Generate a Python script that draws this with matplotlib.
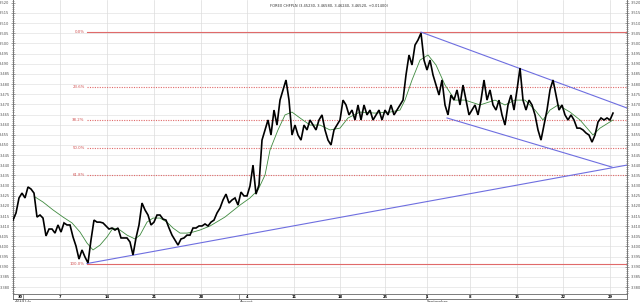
import numpy as np
import matplotlib
matplotlib.use("Agg")
import matplotlib.pyplot as plt
from matplotlib.ticker import MultipleLocator, FormatStrFormatter

# ---------------- data ----------------
title = "FOREX CHFPLN (3.45230, 3.46580, 3.46240, 3.46520, +0.01400)"

# hourly-ish closes, evenly spaced in trading days from 0 to price_span
price_span = 63.83
price = [
    3.4130, 3.4165, 3.4239, 3.4263, 3.4239, 3.4293, 3.4283, 3.4263, 3.4145, 3.4155,
    3.4140, 3.4052, 3.4086, 3.4086, 3.4066, 3.4106, 3.4071, 3.4116, 3.4106, 3.4106,
    3.4047, 3.4002, 3.3938, 3.3983, 3.3948, 3.3919, 3.4032, 3.4130, 3.4120, 3.4120,
    3.4116, 3.4101, 3.4086, 3.4091, 3.4081, 3.4091, 3.4042, 3.4042, 3.4042, 3.4022,
    3.3958, 3.4042, 3.4106, 3.4214, 3.4180, 3.4155, 3.4106, 3.4120, 3.4155, 3.4155,
    3.4135, 3.4130, 3.4091, 3.4056, 3.4032, 3.4007, 3.4037, 3.4042, 3.4056, 3.4056,
    3.4091, 3.4091, 3.4101, 3.4101, 3.4111, 3.4101, 3.4120, 3.4130, 3.4165, 3.4189,
    3.4229, 3.4258, 3.4214, 3.4229, 3.4239, 3.4204, 3.4268, 3.4249, 3.4249, 3.4298,
    3.4401, 3.4258, 3.4303, 3.4524, 3.4574, 3.4623, 3.4549, 3.4672, 3.4598, 3.4721,
    3.4771, 3.4820, 3.4721, 3.4549, 3.4598, 3.4549, 3.4524, 3.4598, 3.4574, 3.4623,
    3.4598, 3.4574, 3.4623, 3.4648, 3.4574, 3.4524, 3.4500, 3.4574, 3.4598, 3.4623,
    3.4721, 3.4697, 3.4648, 3.4672, 3.4623, 3.4697, 3.4623, 3.4697, 3.4648, 3.4672,
    3.4623, 3.4648, 3.4672, 3.4623, 3.4672, 3.4648, 3.4697, 3.4648, 3.4672, 3.4697,
    3.4721, 3.4845, 3.4943, 3.4894, 3.4992, 3.5017, 3.5051, 3.4918, 3.4869, 3.4918,
    3.4845, 3.4795, 3.4746, 3.4820, 3.4697, 3.4648, 3.4746, 3.4721, 3.4771, 3.4697,
    3.4795, 3.4721, 3.4648, 3.4672, 3.4697, 3.4648, 3.4721, 3.4820, 3.4721, 3.4771,
    3.4697, 3.4672, 3.4721, 3.4648, 3.4598, 3.4697, 3.4746, 3.4672, 3.4771, 3.4879,
    3.4721, 3.4672, 3.4721, 3.4697, 3.4648, 3.4574, 3.4524, 3.4598, 3.4672, 3.4771,
    3.4820, 3.4746, 3.4672, 3.4697, 3.4648, 3.4623, 3.4648, 3.4623, 3.4583, 3.4583,
    3.4574, 3.4559, 3.4549, 3.4514, 3.4549, 3.4613, 3.4633, 3.4623, 3.4633, 3.4623,
    3.4657,
]

# moving average (green)
ma_t = [2.34, 3.19, 4.26, 5.32, 6.28, 7.13, 7.87, 8.51, 9.26, 10.0, 10.64, 11.38,
        12.13, 12.98, 13.51, 14.26, 14.89, 15.64, 16.38, 17.02, 17.77, 18.51, 19.15,
        19.89, 20.96, 22.55, 24.15, 25.21, 26.06, 26.81, 27.34, 28.19, 28.94, 29.68,
        30.53, 31.60, 32.66, 33.72, 34.79, 35.64, 36.91, 38.51, 40.11, 41.17, 41.70,
        42.45, 43.30, 44.15, 45.0, 45.96, 47.02, 48.09, 49.68, 51.28, 52.34, 53.40,
        54.47, 55.53, 56.38, 57.13, 57.98, 59.26, 60.32, 61.70, 62.45, 63.83]
ma_v = [3.4244, 3.4219, 3.4180, 3.4145, 3.4116, 3.4071, 3.4017, 3.3983, 3.4007, 3.4047,
        3.4091, 3.4081, 3.4056, 3.4037, 3.4056, 3.4120, 3.4140, 3.4140, 3.4120, 3.4091,
        3.4066, 3.4066, 3.4071, 3.4081, 3.4101, 3.4145, 3.4204, 3.4239, 3.4278, 3.4352,
        3.4475, 3.4574, 3.4648, 3.4662, 3.4633, 3.4598, 3.4598, 3.4574, 3.4583, 3.4633,
        3.4662, 3.4657, 3.4662, 3.4672, 3.4721, 3.4820, 3.4918, 3.4943, 3.4894, 3.4795,
        3.4721, 3.4721, 3.4697, 3.4721, 3.4697, 3.4721, 3.4721, 3.4672, 3.4623, 3.4672,
        3.4697, 3.4662, 3.4623, 3.4549, 3.4583, 3.4623]

# Fibonacci retracement
fib_start_t = 7.87
fib_high = 3.5056
fib_low = 3.3916
fib_ratios = [0.0, 0.236, 0.382, 0.5, 0.618, 1.0]
fib_labels = ["0.0%", "23.6%", "38.2%", "50.0%", "61.8%", "100.0%"]

# trend lines  ((t0, p0), (t1, p1))
trend_lines = [
    ((7.87, 3.3916), (65.32, 3.4401)),   # rising support
    ((43.40, 3.5056), (65.32, 3.4682)),  # channel top
    ((46.17, 3.4633), (63.72, 3.4391)),  # channel bottom
]

# x axis: week ticks (trading days) and day labels
week_ticks = [0.74, 5.0, 10.0, 15.0, 20.0, 24.9, 29.9, 34.8, 39.6, 44.0, 48.6, 53.6, 58.5, 63.5]
week_labels = ["30", "7", "14", "21", "28", "4", "11", "18", "25", "1", "8", "15", "22", "29"]
month_pos = [0.1, 1.05, 24.0, 43.9]
month_labels = ["2014", "July", "August", "September"]

y_ticks_lo, y_ticks_hi, y_step = 3.380, 3.515, 0.005

# ---------------- plot ----------------
W, H = 640, 302
fig = plt.figure(figsize=(W / 100, H / 100), dpi=100)
fig.patch.set_facecolor("white")
left_px, right_px, top_px, bot_px = 13, 627, 0, 294
ax = fig.add_axes([left_px / W, (H - bot_px) / H, (right_px - left_px) / W, (bot_px - top_px) / H])

t = np.linspace(0, price_span, len(price))
xmax = (right_px - left_px) / 9.4
ax.set_xlim(0, xmax)
ax.set_ylim(3.3766, 3.5214)

# grid
for yv in np.arange(y_ticks_lo, y_ticks_hi + 1e-9, y_step):
    ax.axhline(yv, color="#e3e3e3", lw=0.5, zorder=0)
for xv in week_ticks[1:]:
    ax.axvline(xv, color="#dcdcdc", lw=0.5, zorder=0)

# fibonacci
red = "#e06a6a"
for r, lab in zip(fib_ratios, fib_labels):
    lvl = fib_high - r * (fib_high - fib_low)
    ls = "-" if r in (0.0, 1.0) else (0, (1, 1.2))
    ax.plot([fib_start_t, xmax], [lvl, lvl], color=red, lw=0.8, ls=ls, zorder=1)
    ax.text(fib_start_t - 0.25, lvl, lab, color="#d05050", fontsize=2.8,
            ha="right", va="center", zorder=3)

# trend lines
for (t0, p0), (t1, p1) in trend_lines:
    ax.plot([t0, t1], [p0, p1], color="#6e6ee0", lw=0.8, zorder=2)

# MA and price
ax.plot(ma_t, ma_v, color="#3f8a3f", lw=0.6, zorder=3)
ax.plot(t, price, color="black", lw=1.2, zorder=4, solid_joinstyle="miter")

# axes styling
ax.yaxis.set_major_locator(MultipleLocator(y_step))
ax.yaxis.set_minor_locator(MultipleLocator(0.001))
ax.yaxis.set_major_formatter(FormatStrFormatter("%.3f"))
ax.tick_params(axis="y", which="both", left=True, right=True, labelleft=True, labelright=True,
               direction="inout", colors="#555555", labelsize=2.6, pad=1.2, width=0.4)
ax.tick_params(axis="y", which="major", length=2.5)
ax.tick_params(axis="y", which="minor", length=1.5)
ax.set_xticks([])
for s in ("top", "bottom"):
    ax.spines[s].set_visible(False)
for s in ("left", "right"):
    ax.spines[s].set_color("#777777")
    ax.spines[s].set_linewidth(0.7)

ax.text(0.515, 0.988, title, transform=ax.transAxes, fontsize=2.6, ha="center", va="top", color="#333333")

# bottom date bar
bar = fig.add_axes([left_px / W, (H - 299) / H, (right_px - left_px) / W, 5 / H])
bar.set_xlim(0, xmax)
bar.set_ylim(0, 1)
bar.set_xticks([])
bar.set_yticks([])
for s in bar.spines.values():
    s.set_color("#666666")
    s.set_linewidth(0.6)
for xv, lab in zip(week_ticks, week_labels):
    bar.text(xv, 0.5, lab, fontsize=2.6, ha="center", va="center", color="black", fontweight="bold")
for xv in month_pos[1:]:
    bar.axvline(xv, color="#666666", lw=0.5)
for xv, lab in zip(month_pos, month_labels):
    fig.text((left_px + xv * 9.4 + 1) / W, (H - 299.5) / H, lab, fontsize=2.8, ha="left", va="top",
             color="#333333")

fig.savefig("out.png", dpi=100, facecolor="white")
